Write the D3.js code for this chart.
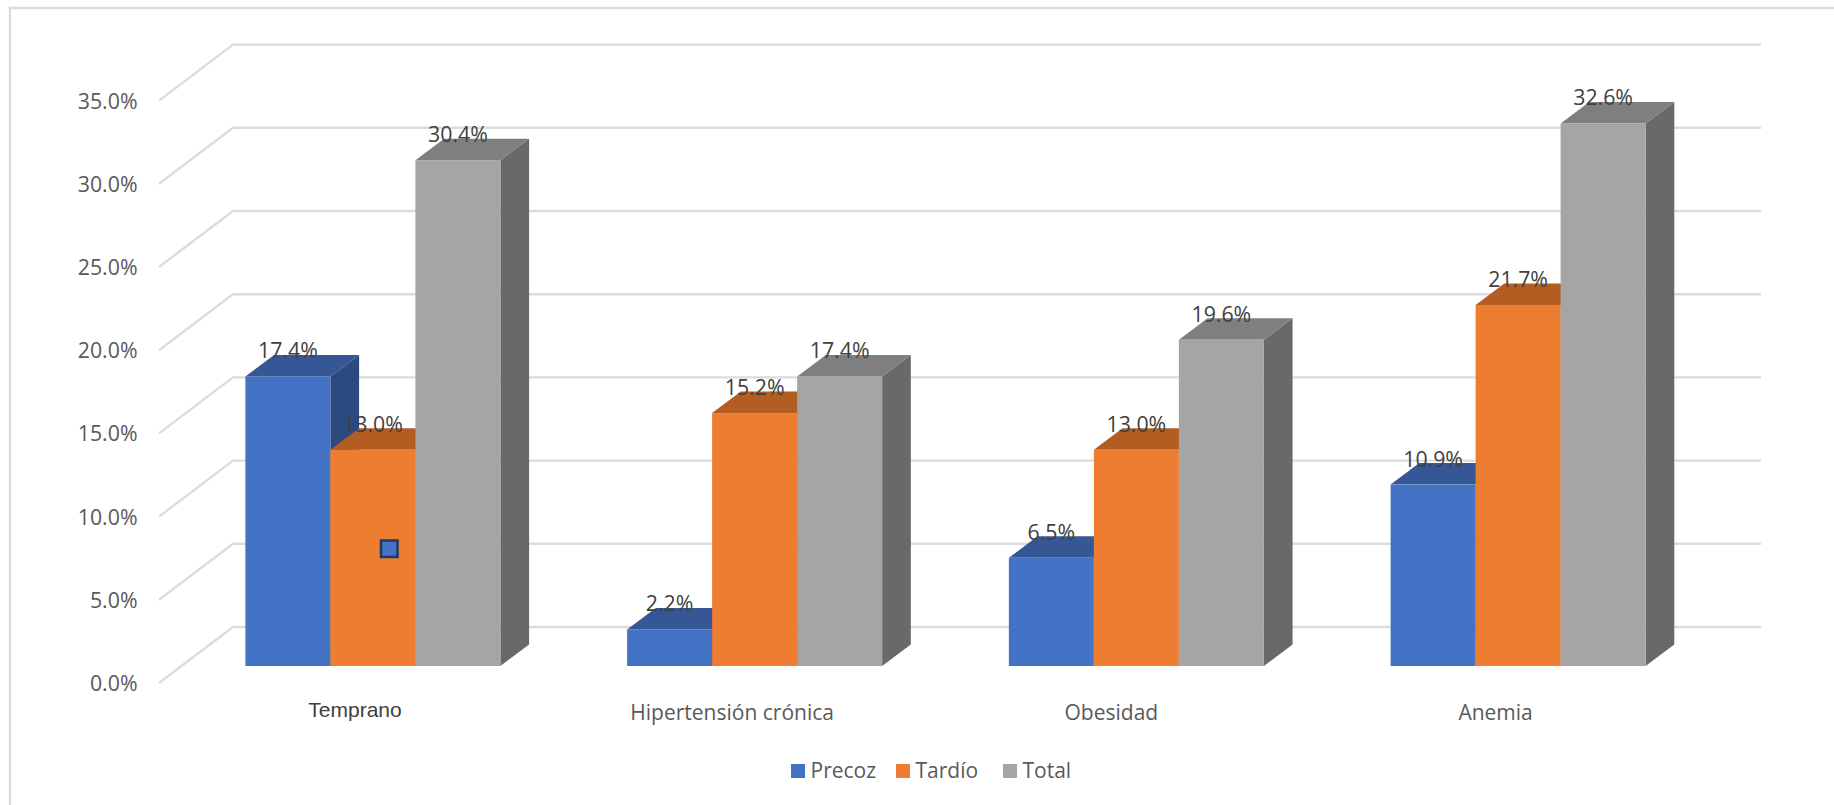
<!DOCTYPE html>
<html>
<head>
<meta charset="utf-8">
<script src="https://cdn.jsdelivr.net/npm/d3@7/dist/d3.min.js"></script>
<style>
  html, body { margin: 0; padding: 0; background: #fff; }
  svg { display: block; }
  text { font-family: "Open Sans", "Noto Sans", sans-serif; }
</style>
</head>
<body>
<svg id="chart" width="1834" height="805"></svg>
<script>
// Chart content
const categories = ["Temprano", "Hipertensión crónica", "Obesidad", "Anemia"];
const seriesNames = ["Precoz", "Tardío", "Total"];
const precoz = [17.4, 2.2, 6.5, 10.9];
const tardio = [13.0, 15.2, 13.0, 21.7];
const total = [30.4, 17.4, 19.6, 32.6];
const axisTicks = [0, 5, 10, 15, 20, 25, 30, 35];

// Face colours per series: front, top, side
const frontColors = ["#4472C4", "#ED7D31", "#A5A5A5"];
const topColors = ["#355796", "#B35D23", "#7F7F7F"];
const sideColors = ["#2C4A80", "#9C5020", "#696969"];

const svg = d3.select("#chart");
const seriesValues = [precoz, tardio, total];

// Oblique projection: the floor runs from the front edge of the axis to the back wall
const y = d3.scaleLinear().domain([0, 35]).range([666, 83.6]);
const depthX = 28.7, depthY = 21.5;
const wallOffset = -39, axisOffset = 17;
const wallLeft = 233, wallRight = 1761, axisLeft = 159;

const groupX = d3.scalePoint().domain(categories).range([245.4, 1390.6]);
const barX = d3.scaleBand().domain(seriesNames).range([0, 255]).padding(0);
const categoryLabelOffsets = [109.6, 105, 102.5, 105];

// Outer frame: open on the right and at the bottom
svg.append("path")
  .attr("d", d3.line()([[10, 805], [10, 8], [1834, 8]]))
  .attr("fill", "none").attr("stroke", "#DCDCDC").attr("stroke-width", 2.4);

// Gridlines on the side and back walls
const grid = svg.append("g").attr("fill", "none").attr("stroke", "#DCDCDC").attr("stroke-width", 2.4);
grid.selectAll("path").data(axisTicks).join("path")
  .attr("d", t => d3.line()([
    [axisLeft, y(t) + axisOffset],
    [wallLeft, y(t) + wallOffset],
    [wallRight, y(t) + wallOffset]
  ]));

// Value axis labels
svg.append("g").selectAll("text").data(axisTicks).join("text")
  .attr("x", 137.5)
  .attr("y", t => y(t) + axisOffset + 0.5)
  .attr("dy", "0.35em")
  .attr("text-anchor", "end")
  .attr("font-size", 21.3)
  .attr("fill", "#595959")
  .text(t => d3.format(".1f")(t) + "%");

// 3D bars, painted left to right so each one covers its neighbour's side
const bars = svg.append("g");
categories.forEach((cat, c) => {
  seriesNames.forEach((name, s) => {
    const x0 = groupX(cat) + barX(name);
    const x1 = x0 + barX.bandwidth();
    const yTop = y(seriesValues[s][c]);
    const yBase = y(0);
    const g = bars.append("g");
    g.append("path")
      .attr("d", d3.line()([[x1, yTop], [x1 + depthX, yTop - depthY], [x1 + depthX, yBase - depthY], [x1, yBase]]) + "Z")
      .attr("fill", sideColors[s]);
    g.append("path")
      .attr("d", d3.line()([[x0, yTop], [x0 + depthX, yTop - depthY], [x1 + depthX, yTop - depthY], [x1, yTop]]) + "Z")
      .attr("fill", topColors[s]);
    g.append("rect")
      .attr("x", x0).attr("y", yTop)
      .attr("width", barX.bandwidth()).attr("height", yBase - yTop)
      .attr("fill", frontColors[s]);
  });
});

// Value labels above the bars
const labels = svg.append("g");
categories.forEach((cat, c) => {
  seriesNames.forEach((name, s) => {
    labels.append("text")
      .attr("x", groupX(cat) + barX(name) + barX.bandwidth() / 2)
      .attr("y", y(seriesValues[s][c]) - 25.5)
      .attr("dy", "0.35em")
      .attr("text-anchor", "middle")
      .attr("font-size", 21.3)
      .attr("fill", "#404040")
      .text(d3.format(".1f")(seriesValues[s][c]) + "%");
  });
});

// Category labels; the first one is set in a different face
svg.append("g").selectAll("text").data(categories).join("text")
  .attr("x", (d, i) => groupX(d) + categoryLabelOffsets[i])
  .attr("y", (d, i) => i === 0 ? 717 : 720)
  .attr("text-anchor", "middle")
  .attr("font-size", 21)
  .style("font-family", (d, i) => i === 0 ? '"Liberation Sans", Arial, sans-serif' : null)
  .attr("fill", (d, i) => i === 0 ? "#404040" : "#595959")
  .text(d => d);

// Small square handle sitting on the first orange bar
svg.append("rect")
  .attr("x", 381).attr("y", 540.5)
  .attr("width", 16.5).attr("height", 16.5)
  .attr("fill", "#4472C4").attr("stroke", "#1F3864").attr("stroke-width", 2.5);

// Legend
const legendSwatchX = d3.scaleOrdinal().domain(seriesNames).range([791, 896, 1003]);
const legend = svg.append("g").selectAll("g").data(seriesNames).join("g")
  .attr("transform", d => `translate(${legendSwatchX(d)},764)`);
legend.append("rect")
  .attr("width", 14).attr("height", 14)
  .attr("fill", (d, i) => frontColors[i]);
legend.append("text")
  .attr("x", 19.5).attr("y", 14)
  .attr("font-size", 21)
  .attr("fill", "#595959")
  .text(d => d);
</script>
</body>
</html>
